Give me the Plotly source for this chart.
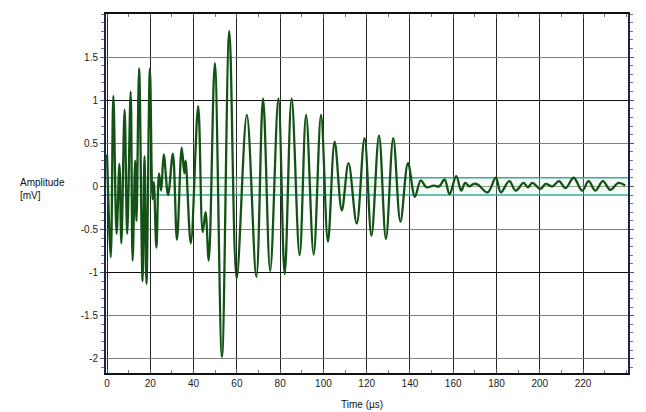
import plotly.graph_objects as go

# Extrema of the waveform (time in µs, amplitude in mV)
time_us = [0, 1.7, 2.9, 4.4, 5.7, 6.6, 8.1, 9.3, 10.9, 11.8, 13.0, 13.6, 14.8, 16.4, 17.3, 18.2,
           19.8, 21.0, 21.6, 22.8, 24.0, 25.0, 26.2, 28.2, 30.4, 32.3, 34.5, 35.7, 36.3, 38.7,
           42.1, 44.2, 45.5, 47.0, 49.8, 53.1, 56.5, 59.9, 64.6, 69.0, 72.1, 75.4, 79.2, 82.1,
           85.3, 89.0, 92.0, 95.5, 98.9, 102.1, 105.2, 108.5, 111.6, 115.4, 119.0, 122.2, 125.7,
           128.9, 132.3, 135.6, 139.1, 142.3, 145.0, 147.6, 151.0, 153.5, 156.0, 158.3, 161.4,
           163.7, 165.5, 167.5, 169.5, 171.5, 175.9, 179.7, 182.0, 185.9, 188.9, 192.5, 194.5,
           196.6, 200.4, 202.7, 205.8, 208.9, 211.9, 215.7, 219.6, 222.6, 225.7, 229.2, 232.6,
           236.4, 239.5]
amplitude_mv = [0.37, -0.82, 1.05, -0.55, 0.26, -0.66, 0.89, -0.55, 1.10, -0.86, 0.30, -0.40, 1.37,
                -1.10, 0.35, -1.13, 1.37, -0.15, 0.05, -0.71, 0.15, -0.05, 0.37, -0.10, 0.38,
                -0.62, 0.45, 0.15, 0.30, -0.66, 0.93, -0.53, -0.30, -0.86, 1.43, -1.98, 1.80,
                -1.07, 0.83, -1.05, 1.02, -0.98, 1.02, -1.02, 1.02, -0.80, 0.83, -0.79, 0.83,
                -0.64, 0.52, -0.28, 0.27, -0.43, 0.56, -0.57, 0.59, -0.61, 0.56, -0.41, 0.27,
                -0.12, 0.07, -0.01, 0.01, 0.0, 0.08, -0.09, 0.12, -0.05, 0.04, 0.0, 0.03, 0.02,
                -0.07, 0.10, -0.07, 0.06, -0.05, 0.04, -0.01, 0.04, -0.03, 0.03, 0.0, 0.06,
                -0.02, 0.10, -0.05, 0.06, -0.05, 0.06, -0.04, 0.04, 0.01]

threshold_mv = 0.1
x_ticks = [0, 20, 40, 60, 80, 100, 120, 140, 160, 180, 200, 220]
y_ticks = [-2, -1.5, -1, -0.5, 0, 0.5, 1, 1.5]
y_tick_text = ["-2", "-1.5", "-1", "-0.5", "0", "0.5", "1", "1.5"]

font = "Liberation Sans, Arial, sans-serif"

fig = go.Figure()

# threshold band
fig.add_trace(go.Scatter(x=[-1, 242], y=[threshold_mv, threshold_mv], mode="lines",
                         line=dict(color="#3aa9a6", width=1.5), hoverinfo="skip", showlegend=False))
fig.add_trace(go.Scatter(x=[-1, 242], y=[-threshold_mv, -threshold_mv], mode="lines",
                         line=dict(color="#3aa9a6", width=1.5), fill="tonexty",
                         fillcolor="rgba(210,240,215,0.25)", hoverinfo="skip", showlegend=False))

fig.add_trace(go.Scatter(x=time_us, y=amplitude_mv, mode="lines",
                         line=dict(color="#135215", width=2.3, shape="spline", smoothing=1.0),
                         showlegend=False, yaxis="y"))

# integer gridlines (darker) on overlay axis
fig.add_trace(go.Scatter(x=[None], y=[None], yaxis="y2", showlegend=False))

fig.update_layout(
    width=646, height=412,
    margin=dict(l=106, r=15, t=12, b=39),
    paper_bgcolor="white", plot_bgcolor="white",
    font=dict(family=font, size=9, color="#222"),
    xaxis=dict(range=[-0.5, 240.8], tickvals=x_ticks, showgrid=True, gridcolor="#222",
               gridwidth=1.3, zeroline=False, showline=True, linecolor="#111", linewidth=2,
               mirror="ticks", ticks="inside", ticklen=4, tickcolor="#555",
               minor=dict(dtick=10, tick0=0, ticks="inside", ticklen=3, tickcolor="#777"),
               tickfont=dict(family=font, size=10, color="#222")),
    yaxis=dict(range=[-2.165, 2.0], tickvals=y_ticks, ticktext=y_tick_text, showgrid=True,
               gridcolor="#808080", gridwidth=1.3, zeroline=False, showline=True,
               linecolor="#1a2550", linewidth=2, mirror="ticks", ticks="outside", ticklen=4,
               tickcolor="#555",
               minor=dict(dtick=0.1, tick0=0, ticks="outside", ticklen=3, tickcolor="#777"),
               tickfont=dict(family=font, size=10, color="#222")),
    yaxis2=dict(range=[-2.165, 2.0], overlaying="y", tickvals=[-1, 1], showticklabels=False,
                showgrid=True, gridcolor="#111", gridwidth=1.4, zeroline=False, showline=False,
                ticks=""),
    annotations=[
        dict(text="Amplitude<br>[mV]", xref="paper", yref="paper", x=-0.1695, y=0.512,
             xanchor="left", yanchor="middle", align="left", showarrow=False,
             font=dict(family=font, size=10, color="#111")),
        dict(text="Time (µs)", xref="paper", yref="paper", x=0.4895, y=-0.0886,
             xanchor="center", yanchor="middle", showarrow=False,
             font=dict(family=font, size=10, color="#111")),
    ],
)

fig.write_html("out.html")
